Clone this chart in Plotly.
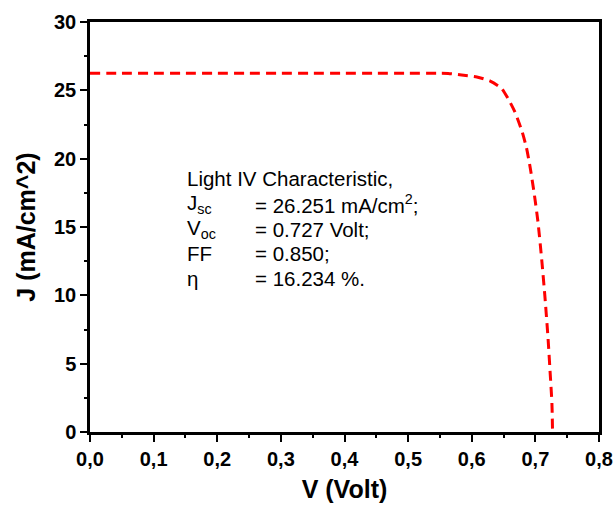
import plotly.graph_objects as go

# Data
voltage = [0.0, 0.05, 0.10, 0.15, 0.20, 0.25, 0.30, 0.35, 0.40, 0.45, 0.50, 0.55,
           0.563, 0.584, 0.608, 0.629, 0.647, 0.657, 0.668, 0.679, 0.686, 0.692,
           0.698, 0.704, 0.710, 0.715, 0.720, 0.723, 0.726, 0.727]
current = [26.251, 26.251, 26.251, 26.251, 26.251, 26.251, 26.251, 26.251, 26.251, 26.251, 26.25, 26.25,
           26.24, 26.12, 25.98, 25.68, 25.14, 24.4, 23.4, 22.0, 20.8, 19.3,
           17.5, 15.4, 12.6, 9.9, 6.8, 4.5, 2.1, 0.0]

x_ticks = [0.0, 0.1, 0.2, 0.3, 0.4, 0.5, 0.6, 0.7, 0.8]
x_tick_labels = ["0,0", "0,1", "0,2", "0,3", "0,4", "0,5", "0,6", "0,7", "0,8"]
y_ticks = [0, 5, 10, 15, 20, 25, 30]
y_tick_labels = ["0", "5", "10", "15", "20", "25", "30"]

label_lines = ["Light IV Characteristic,", "J<sub>sc</sub>", "V<sub>oc</sub>", "FF", "η"]
value_lines = ["", "= 26.251 mA/cm<sup>2</sup>;", "= 0.727 Volt;", "= 0.850;", "= 16.234 %."]

FONT = "Liberation Sans"

fig = go.Figure()
fig.add_trace(go.Scatter(
    x=voltage, y=current, mode="lines",
    line=dict(color="#ff0000", width=3, dash="10px,6px", shape="spline", smoothing=0.6),
    showlegend=False, hoverinfo="skip"))

axis_common = dict(
    showline=True, linecolor="black", linewidth=2.5, mirror=True,
    ticks="outside", ticklen=7, tickwidth=2, tickcolor="black",
    showgrid=False, zeroline=False, automargin=False,
    tickfont=dict(family=FONT, size=20, color="black"),
)

fig.update_xaxes(
    range=[0, 0.8], tickvals=x_ticks, ticktext=["<b>%s</b>" % t for t in x_tick_labels],
    minor=dict(ticks="outside", ticklen=3, tickwidth=2, tickcolor="black", dtick=0.05, tick0=0),
    title=dict(text="<b>V (Volt)</b>", font=dict(family=FONT, size=25, color="black"), standoff=12),
    **axis_common)
fig.update_yaxes(
    range=[0, 30], tickvals=y_ticks, ticktext=["<b>%s</b>" % t for t in y_tick_labels],
    minor=dict(ticks="outside", ticklen=3, tickwidth=2, tickcolor="black", dtick=2.5, tick0=0),
    title=dict(text="<b>J (mA/cm^2)</b>", font=dict(family=FONT, size=25, color="black"), standoff=12),
    **axis_common)

ys = [178, 204, 229, 253, 278]
for lab, val, yp in zip(label_lines, value_lines, ys):
    fig.add_annotation(x=(185 - 90) / 509, y=(432 - yp) / 410, xref="paper", yref="paper",
                       text=lab, showarrow=False, xanchor="left", yanchor="middle",
                       font=dict(family=FONT, size=20.5, color="black"))
    if val:
        fig.add_annotation(x=(253 - 90) / 509, y=(432 - yp) / 410, xref="paper", yref="paper",
                           text=val, showarrow=False, xanchor="left", yanchor="middle",
                           font=dict(family=FONT, size=20.5, color="black"))

fig.update_layout(
    width=614, height=505,
    margin=dict(l=90, r=15, t=22, b=73),
    paper_bgcolor="white", plot_bgcolor="white",
)

fig.write_html("out.html")
